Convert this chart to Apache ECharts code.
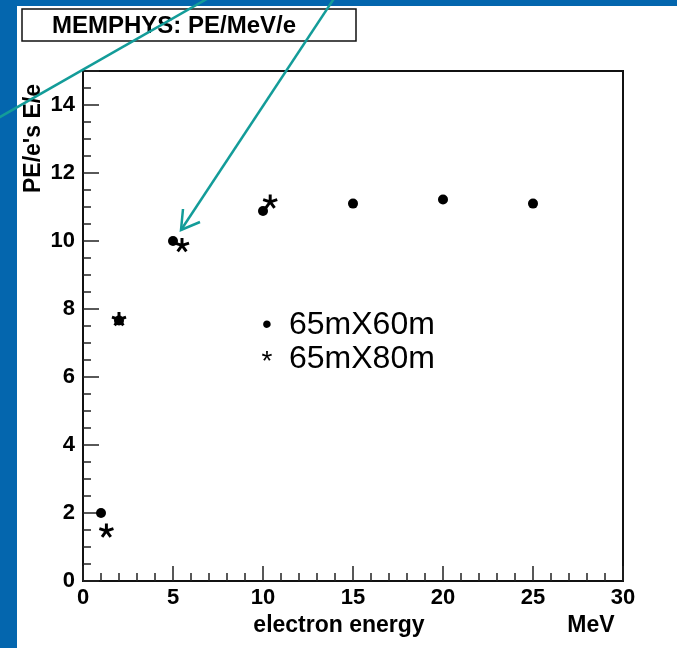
<!DOCTYPE html>
<html>
<head>
<meta charset="utf-8">
<script src="https://cdn.jsdelivr.net/npm/echarts@6/dist/echarts.min.js"></script>
<style>
html,body{margin:0;padding:0;background:#fff;}
#c{width:677px;height:648px;}
</style>
</head>
<body>
<div id="c"></div>
<script>
// ---- data ----
const energy60 = [1, 2, 5, 10, 15, 20, 25];
const pe60 = [2.0, 7.66, 10.0, 10.88, 11.1, 11.22, 11.1];
const energy80 = [1.3, 2.0, 5.5, 10.4];
const pe80 = [1.48, 7.7, 9.88, 11.16];
const titleText = 'MEMPHYS: PE/MeV/e';
const xTitle = 'electron energy';
const xUnit = 'MeV';
const yTitle = "PE/e's E/e";
const legendNames = ['65mX60m', '65mX80m'];

// ---- styles ----
const FONT = "'Liberation Sans', Arial, Helvetica, sans-serif";
const TEAL = '#139c99';
const BLUE = '#0466ae';

function asteriskPath() {
  const c = 50, L = 50, h = 10;
  let s = '';
  for (let i = 0; i < 5; i++) {
    const a = (-90 + 72 * i) * Math.PI / 180;
    const dx = Math.cos(a), dy = Math.sin(a), nx = -dy, ny = dx;
    const pts = [[c + nx * h, c + ny * h], [c + dx * L + nx * h, c + dy * L + ny * h],
                 [c + dx * L - nx * h, c + dy * L - ny * h], [c - nx * h, c - ny * h]];
    s += 'M' + pts.map(p => p[0].toFixed(2) + ' ' + p[1].toFixed(2)).join(' L') + ' Z ';
  }
  return 'path://' + s;
}

const chart = echarts.init(document.getElementById('c'), null, {renderer: 'canvas'});
const axisLabelStyle = {color: '#000', fontFamily: FONT, fontWeight: 'bold', fontSize: 22};

const option = {
  backgroundColor: '#fff',
  animation: false,
  grid: {left: 83, top: 71, right: 54, bottom: 67, show: true, borderColor: '#111', borderWidth: 2, backgroundColor: 'transparent'},
  xAxis: [{
    type: 'value', min: 0, max: 30, interval: 5,
    axisLine: {show: true, lineStyle: {color: '#111', width: 2}},
    axisTick: {show: true, inside: true, length: 15, lineStyle: {color: '#222', width: 1.5}},
    minorTick: {show: true, splitNumber: 5, length: 8, lineStyle: {color: '#222', width: 1.5}},
    axisLabel: Object.assign({margin: 6}, axisLabelStyle),
    splitLine: {show: false}
  }],
  yAxis: [{
    type: 'value', min: 0, max: 15, interval: 2,
    axisLine: {show: true, lineStyle: {color: '#111', width: 2}},
    axisTick: {show: true, inside: true, length: 16, lineStyle: {color: '#222', width: 1.5}},
    axisLabel: Object.assign({margin: 8, formatter: v => (v > 14 ? '' : String(v))}, axisLabelStyle),
    splitLine: {show: false}
  }, {
    type: 'value', min: 0, max: 15, interval: 0.5, position: 'left',
    axisLine: {show: false},
    axisTick: {show: true, inside: true, length: 8, lineStyle: {color: '#222', width: 1.5}},
    axisLabel: {show: false},
    splitLine: {show: false}
  }],
  series: [{
    name: legendNames[0], type: 'scatter', xAxisIndex: 0, yAxisIndex: 0,
    symbol: 'circle', symbolSize: 10,
    itemStyle: {color: '#000', opacity: 1},
    data: energy60.map((x, i) => [x, pe60[i]])
  }, {
    name: legendNames[1], type: 'scatter', xAxisIndex: 0, yAxisIndex: 0,
    symbol: asteriskPath(), symbolSize: 15, symbolKeepAspect: true,
    itemStyle: {color: '#000', opacity: 1},
    data: energy80.map((x, i) => [x, pe80[i]])
  }],
  graphic: [
    {type: 'rect', z: 0, shape: {x: 0, y: 0, width: 17, height: 648}, style: {fill: BLUE}},
    {type: 'rect', z: 0, shape: {x: 0, y: 0, width: 677, height: 6}, style: {fill: BLUE}},
    {type: 'rect', z: 1, shape: {x: 22, y: 9, width: 334, height: 32}, style: {fill: '#fff', stroke: '#111', lineWidth: 1.5}},
    {type: 'text', z: 2, x: 52, y: 26, style: {text: titleText, font: "bold 24px " + FONT, fill: '#000', textAlign: 'left', textVerticalAlign: 'middle'}},
    {type: 'text', z: 2, x: 34, y: 84, rotation: Math.PI / 2, style: {text: yTitle, font: "bold 23px " + FONT, fill: '#000', textAlign: 'right', textVerticalAlign: 'middle'}},
    {type: 'text', z: 2, x: 339, y: 626, style: {text: xTitle, font: "bold 23px " + FONT, fill: '#000', textAlign: 'center', textVerticalAlign: 'middle'}},
    {type: 'text', z: 2, x: 591, y: 626, style: {text: xUnit, font: "bold 23px " + FONT, fill: '#000', textAlign: 'center', textVerticalAlign: 'middle'}},
    {type: 'text', z: 2, x: 267, y: 325, style: {text: '\u2022', font: "28px " + FONT, fill: '#000', textAlign: 'center', textVerticalAlign: 'middle'}},
    {type: 'text', z: 2, x: 289, y: 325, style: {text: legendNames[0], font: "32px " + FONT, fill: '#000', textAlign: 'left', textVerticalAlign: 'middle'}},
    {type: 'text', z: 2, x: 267, y: 362, style: {text: '*', font: "28px " + FONT, fill: '#000', textAlign: 'center', textVerticalAlign: 'middle'}},
    {type: 'text', z: 2, x: 289, y: 359, style: {text: legendNames[1], font: "32px " + FONT, fill: '#000', textAlign: 'left', textVerticalAlign: 'middle'}},
    {type: 'polyline', z: 100, shape: {points: [[-10, 122.7], [215, -5.7]]}, style: {stroke: TEAL, lineWidth: 2.5, fill: null}},
    {type: 'polyline', z: 100, shape: {points: [[337, -6], [181, 230]]}, style: {stroke: TEAL, lineWidth: 2.5, fill: null}},
    {type: 'polyline', z: 100, shape: {points: [[183, 209], [181, 230], [200, 222]]}, style: {stroke: TEAL, lineWidth: 2.5, fill: null, lineJoin: 'miter'}}
  ]
};
chart.setOption(option);
</script>
</body>
</html>
